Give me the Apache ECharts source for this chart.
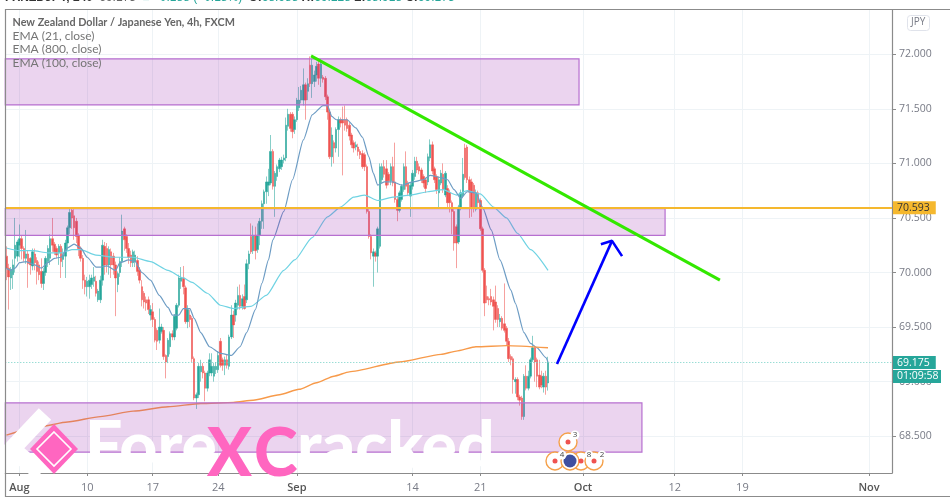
<!DOCTYPE html>
<html><head><meta charset="utf-8">
<style>html,body{margin:0;padding:0;background:#fff;overflow:hidden}#chart{width:950px;height:500px;filter:blur(0.35px)}</style>
<script src="https://cdn.jsdelivr.net/npm/echarts@6/dist/echarts.min.js"></script>
</head><body><div id="chart"></div>
<script>
const opens=[70.15,70.04,69.95,69.98,70.13,70.15,70.25,70.31,70.22,70.13,
70.17,70.13,70.06,70.17,70.11,70.07,70.01,69.90,70.00,70.10,
70.13,70.31,70.26,70.22,70.18,70.24,70.12,70.15,70.27,70.41,
70.57,70.52,70.47,70.34,70.22,70.13,69.93,69.87,69.87,69.89,
69.92,69.92,69.75,69.75,69.93,70.24,70.22,70.07,70.19,70.15,
70.07,69.89,70.00,70.10,70.40,70.33,70.22,70.16,70.09,70.10,
70.11,70.02,69.87,69.81,69.75,69.75,69.61,69.64,69.57,69.47,
69.38,69.46,69.47,69.24,69.23,69.32,69.44,69.41,69.49,69.70,
69.92,69.95,69.86,69.55,69.61,69.58,69.21,68.85,68.88,69.09,
69.14,69.08,68.94,69.08,69.08,69.05,69.11,69.11,69.37,69.20,
69.15,69.20,69.14,69.41,69.61,69.61,69.70,69.79,69.69,69.78,
69.75,70.08,70.33,70.20,70.34,70.21,70.34,70.47,70.63,70.74,
70.80,70.82,71.11,70.79,70.88,70.95,70.97,71.03,71.05,71.34,
71.45,71.45,71.31,71.40,71.51,71.58,71.58,71.72,71.66,71.90,
71.73,71.75,71.81,71.91,71.78,71.79,71.78,71.61,71.47,71.06,
71.19,71.14,71.31,71.40,71.40,71.40,71.40,71.35,71.26,71.19,
71.15,71.15,71.11,71.09,71.08,70.97,70.56,70.33,70.15,70.18,
70.15,70.24,70.85,70.97,70.95,70.90,70.84,70.97,70.83,70.67,
70.57,70.67,70.76,70.97,70.82,70.70,70.79,70.88,71.02,70.97,
70.94,70.88,70.85,70.83,71.05,71.17,70.95,70.88,70.73,70.82,
70.90,70.71,70.77,70.73,70.64,70.56,70.42,70.28,70.59,70.70,
71.14,71.15,70.85,70.83,70.80,70.58,70.73,70.66,70.40,70.02,
69.78,69.76,69.78,69.75,69.73,69.67,69.55,69.58,69.53,69.49,
69.37,69.23,69.21,69.00,69.02,68.86,68.85,68.68,69.05,68.94,
69.05,69.20,69.31,69.20,69.06,69.05,68.95,69.05,68.988];
const highs=[70.24,70.08,70.05,70.12,70.50,70.30,70.44,70.34,70.24,70.39,
70.20,70.14,70.22,70.22,70.14,70.10,70.13,70.04,70.15,70.25,
70.35,70.50,70.28,70.24,70.26,70.26,70.22,70.30,70.43,70.60,
70.60,70.58,70.50,70.36,70.24,70.16,69.98,69.96,69.98,69.98,
70.05,69.97,69.85,69.97,70.30,70.28,70.27,70.24,70.22,70.18,
70.10,70.01,70.14,70.53,70.42,70.35,70.27,70.20,70.21,70.20,
70.15,70.05,69.93,69.83,69.78,69.78,69.70,69.72,69.59,69.49,
69.67,69.53,69.50,69.25,69.40,69.46,69.47,69.62,69.72,69.98,
70.05,70.06,69.88,69.70,69.66,69.60,69.23,68.90,69.17,69.20,
69.17,69.10,69.10,69.26,69.26,69.17,69.18,69.28,69.40,69.22,
69.23,69.25,69.43,69.70,69.65,69.75,69.87,69.89,69.80,69.89,
70.12,70.20,70.45,70.43,70.42,70.45,70.50,70.66,70.76,70.88,
70.95,71.26,71.13,70.93,70.99,71.05,71.06,71.08,71.42,71.50,
71.47,71.47,71.43,71.60,71.70,71.71,71.87,71.74,71.78,71.98,
71.96,71.85,71.93,71.95,71.96,71.81,71.80,71.63,71.49,71.33,
71.21,71.33,71.43,71.42,71.52,71.53,71.42,71.38,71.28,71.21,
71.20,71.18,71.13,71.12,71.10,70.99,70.58,70.35,70.22,70.20,
70.42,71.00,71.00,71.03,71.03,70.92,71.00,71.06,71.19,70.70,
70.75,70.81,71.00,71.11,70.84,70.83,70.94,71.06,71.06,71.00,
70.96,70.90,70.87,71.09,71.22,71.20,70.97,70.90,70.88,70.94,
71.00,70.93,70.80,70.76,70.66,70.58,70.44,70.62,70.76,71.05,
71.18,71.17,70.88,70.86,70.82,70.76,70.75,70.68,70.42,70.04,
69.88,69.78,69.85,69.78,69.88,69.70,69.62,69.60,69.90,69.51,
69.40,69.25,69.23,69.04,69.04,68.88,68.87,69.07,69.15,69.10,
69.22,69.42,69.33,69.22,69.20,69.10,69.08,69.10,69.228];
const lows=[69.93,69.66,69.84,69.85,70.00,70.10,70.14,70.12,70.10,70.08,
69.86,69.98,70.02,70.02,69.89,69.93,69.86,69.84,69.97,70.05,
70.07,70.19,70.16,70.13,70.07,69.95,70.05,69.95,70.20,70.35,
70.40,70.30,70.27,70.15,70.10,69.85,69.80,69.78,69.76,69.85,
69.87,69.78,69.73,69.72,69.88,69.98,70.00,69.98,69.95,69.98,
69.60,69.82,69.96,70.05,70.20,70.18,70.08,70.05,70.05,70.05,
69.97,69.90,69.69,69.67,69.65,69.62,69.56,69.50,69.36,69.29,
69.35,69.44,69.20,69.03,69.17,69.25,69.38,69.38,69.47,69.68,
69.85,69.80,69.53,69.49,69.50,69.18,68.83,68.75,68.85,69.00,
69.03,68.82,68.91,69.05,69.05,69.00,69.07,69.08,69.13,69.10,
69.06,69.12,69.11,69.39,69.40,69.55,69.66,69.66,69.66,69.66,
69.72,70.03,70.17,70.17,70.12,70.18,70.25,70.40,70.40,70.63,
70.70,70.80,70.76,70.51,70.84,70.92,70.94,71.00,71.02,71.30,
71.29,71.23,71.27,71.38,71.48,71.55,71.53,71.40,71.58,71.70,
71.60,71.70,71.75,71.72,71.70,71.74,71.58,71.40,71.04,70.97,
71.00,71.10,71.06,71.33,70.89,71.30,71.29,71.21,71.14,71.10,
71.12,71.07,71.04,70.95,70.93,70.54,70.31,70.12,69.87,70.10,
70.00,70.22,70.82,70.87,70.77,70.80,70.80,70.79,70.64,70.47,
70.55,70.65,70.74,70.76,70.70,70.51,70.76,70.85,70.91,70.90,
70.82,70.78,70.73,70.80,71.02,70.90,70.82,70.72,70.59,70.80,
70.73,70.69,70.60,70.55,70.35,70.20,70.04,70.26,70.57,70.68,
70.85,70.82,70.50,70.51,70.55,70.56,70.60,70.38,70.00,69.60,
69.72,69.70,69.70,69.47,69.54,69.50,69.50,69.47,69.45,69.33,
69.18,69.15,68.89,68.89,68.83,68.78,68.65,68.65,68.92,68.92,
69.03,69.18,69.00,68.95,68.93,68.94,68.90,68.88,68.918];
const closes=[70.04,69.96,70.03,70.07,70.25,70.28,70.31,70.22,70.13,70.17,
70.08,70.07,70.19,70.09,70.01,69.98,69.90,70.01,70.13,70.22,
70.31,70.25,70.19,70.16,70.24,70.10,70.16,70.27,70.41,70.55,
70.50,70.41,70.33,70.22,70.13,69.93,69.87,69.92,69.93,69.95,
69.96,69.81,69.83,69.93,70.25,70.07,70.07,70.21,70.07,70.07,
69.95,69.99,70.10,70.38,70.30,70.22,70.14,70.09,70.19,70.16,
70.01,69.93,69.75,69.73,69.72,69.66,69.66,69.57,69.38,69.37,
69.50,69.50,69.23,69.18,69.38,69.44,69.41,69.60,69.70,69.95,
69.95,69.87,69.55,69.66,69.57,69.21,68.85,68.88,69.14,69.14,
69.08,68.94,69.08,69.20,69.14,69.14,69.14,69.24,69.15,69.15,
69.20,69.15,69.41,69.61,69.52,69.72,69.79,69.69,69.76,69.67,
70.08,70.17,70.19,70.34,70.20,70.34,70.47,70.63,70.74,70.83,
70.83,71.11,70.79,70.91,70.97,71.03,71.03,71.05,71.35,71.45,
71.32,71.29,71.40,71.58,71.58,71.67,71.72,71.58,71.73,71.73,
71.90,71.81,71.89,71.78,71.91,71.77,71.61,71.47,71.06,71.26,
71.14,71.31,71.40,71.37,71.37,71.35,71.32,71.25,71.17,71.14,
71.17,71.11,71.08,70.97,70.97,70.56,70.33,70.18,70.19,70.15,
70.40,70.97,70.97,70.90,70.80,70.84,70.97,70.82,70.67,70.57,
70.73,70.79,70.97,70.79,70.73,70.80,70.91,71.02,70.94,70.93,
70.85,70.82,70.77,71.06,71.17,70.93,70.85,70.76,70.85,70.91,
70.76,70.91,70.64,70.64,70.56,70.27,70.27,70.60,70.73,70.90,
70.87,70.85,70.74,70.59,70.59,70.73,70.64,70.40,70.02,69.72,
69.75,69.75,69.73,69.69,69.57,69.57,69.58,69.49,69.47,69.37,
69.21,69.20,69.02,69.02,68.86,68.83,68.68,69.05,68.94,69.05,
69.20,69.31,69.18,69.05,68.95,68.97,69.05,68.95,69.175];

const ema21=[[0,70.04],[2,70.02],[4,70.04],[6,70.09],[9,70.10],[13,70.07],[16,70.04],[19,70.09],[22,70.13],[25,70.14],[28,70.225],[31,70.26],[34,70.225],[37,70.14],[41,70.05],[43,70.05],[46,70.06],[50,70.02],[52,70.09],[56,70.115],[59,70.10],[62,70.00],[66,69.93],[70,69.79],[74,69.68],[76,69.61],[79,69.61],[81,69.67],[84,69.67],[86,69.58],[89,69.45],[93,69.32],[98,69.26],[103,69.24],[107,69.32],[110,69.45],[114,69.66],[117,69.90],[120,70.115],[122,70.30],[127,70.56],[131,70.85],[136,71.215],[140,71.445],[145,71.53],[147,71.53],[149,71.43],[151,71.40],[156,71.40],[160,71.325],[163,71.24],[166,71.06],[168,70.91],[170,70.80],[173,70.83],[177,70.83],[181,70.80],[186,70.83],[191,70.85],[194,70.89],[199,70.87],[202,70.85],[205,70.76],[208,70.68],[211,70.74],[215,70.73],[218,70.60],[222,70.39],[226,70.115],[231,69.84],[233,69.72],[237,69.45],[240,69.35],[243,69.31],[247,69.22],[248,69.18]];
const ema100=[[0,70.225],[6,70.20],[12,70.20],[19,70.18],[25,70.18],[30,70.21],[34,70.21],[41,70.16],[49,70.14],[58,70.14],[66,70.10],[74,70.02],[81,69.95],[85,69.91],[92,69.81],[98,69.70],[104,69.67],[112,69.69],[119,69.79],[127,70.02],[132,70.115],[140,70.32],[147,70.51],[153,70.60],[159,70.69],[164,70.71],[170,70.66],[177,70.69],[185,70.71],[193,70.74],[200,70.76],[206,70.71],[211,70.75],[217,70.72],[223,70.60],[229,70.50],[234,70.36],[240,70.21],[248,70.02]];
const ema800=[[0,68.51],[15,68.585],[28,68.63],[43,68.68],[58,68.73],[74,68.77],[89,68.80],[104,68.81],[113,68.83],[125,68.88],[134,68.93],[142,68.99],[150,69.05],[157,69.09],[180,69.18],[199,69.25],[206,69.28],[215,69.32],[229,69.33],[248,69.31]];

const zones=[[-0.5,71.958,262.2,71.536],[-0.5,70.585,301.6,70.34],[-0.5,68.805,291,68.355]];
const trendLine=[[139.5,71.985],[326.7,69.93]];
const arrowShaft=[[252.1,69.162],[277.3,70.29]];
const arrowHead=[[272.2,70.26],[277.3,70.29],[281.9,70.15]];
const resistance=70.593;
const lastPrice=69.175;
const yTicks=[68.5,69,69.5,70,70.5,71,71.5,72];
const xTicks=[6,37,67,97,133,186,217,264,306,337,395];
const xLabels=['Aug','10','17','24','Sep','14','21','Oct','12','19','Nov'];

const candles=opens.map((o,i)=>[i,o,closes[i],lows[i],highs[i]]);
const UP='#26a69a',DOWN='#ef5350';
const FONT='"Open Sans","DejaVu Sans",sans-serif';
const LEG='Lato,"Open Sans",sans-serif';
const WM='Lato,"Open Sans",sans-serif';

const badges=[[568,442,'3',575,435],[555,461,'4',562,455],[581,461,'8',589,455],[594,461,'2',602,455]];
const graphics=[
 {type:'rect',z:50,shape:{x:5.5,y:9.5,width:960,height:487},style:{fill:'none',stroke:'#8b8b8b',lineWidth:1.2}},
 {type:'text',z:50,left:5,top:-8,style:{font:'12px '+FONT,rich:{b:{fontWeight:'bold',fontSize:12,fill:'#333'},g:{fontSize:12,fill:'#666'},t:{fontSize:12,fill:'#26a69a'}},
   text:'{b|FXNZDJPY, 240}  {g|69.175}  {t|■ +0.188 (+0.18%)}  {b|O:}{t|68.988} {b|H:}{t|69.228} {b|L:}{t|68.918} {b|C:}{t|69.175}'}},
 {type:'text',z:50,left:12.5,top:17,style:{text:'New Zealand Dollar / Japanese Yen, 4h, FXCM',font:'bold 10.8px '+LEG,fill:'#666'}},
 {type:'text',z:50,left:12.5,top:30,style:{text:'EMA (21, close)',font:'12px '+LEG,fill:'#757575'}},
 {type:'text',z:50,left:12.5,top:43.5,style:{text:'EMA (800, close)',font:'12px '+LEG,fill:'#757575'}},
 {type:'text',z:50,left:12.5,top:57,style:{text:'EMA (100, close)',font:'12px '+LEG,fill:'#757575'}},
 {type:'rect',z:50,shape:{x:907.5,y:15.5,width:22,height:15,r:3},style:{fill:'#fff',stroke:'#e0e3eb',lineWidth:1}},
 {type:'text',z:51,left:911,top:17.5,style:{text:'JPY',font:'10px '+FONT,fill:'#787b86'}},
 {type:'rect',z:60,shape:{x:893,y:370,width:48,height:13},style:{fill:UP}},
 {type:'text',z:61,left:897,top:370.5,style:{text:'01:09:58',font:'10.5px '+FONT,fill:'#fff'}},
 {type:'polyline',z:40,shape:{points:[[45,414],[12,449],[41,473]]},style:{stroke:'#fff',fill:'none',lineWidth:17}},
 {type:'polygon',z:41,shape:{points:[[54,424],[78,449],[54,474],[30,449]]},style:{fill:'#ff66c0'}},
 {type:'polygon',z:42,shape:{points:[[54,432],[71,449],[54,466],[37,449]]},style:{fill:'#ff66c0',stroke:'#fff',lineWidth:1.6}},
 {type:'text',z:41,left:85,top:415,style:{text:'Fore',font:'900 66px '+WM,fill:'#fff'}},
 {type:'text',z:42,left:207,top:422,style:{text:'X',font:'900 66px '+WM,fill:'#ff66c0'}},
 {type:'text',z:42,left:254,top:422,style:{text:'C',font:'900 66px '+WM,fill:'#ff66c0'}},
 {type:'text',z:41,left:297,top:415,style:{text:'racked',font:'900 66px '+WM,fill:'#fff'}},
 {type:'circle',z:44,shape:{cx:570,cy:461,r:9},style:{fill:'#fff',stroke:'#f5a14a',lineWidth:1.4}},
 {type:'circle',z:45,shape:{cx:570,cy:461,r:6.5},style:{fill:'#3f4fa0'}},
];
badges.forEach(([cx,cy,n,bx,by])=>{
 graphics.push({type:'circle',z:43,shape:{cx,cy,r:9},style:{fill:'#fff',stroke:'#f5a14a',lineWidth:1.4}});
 graphics.push({type:'circle',z:46,shape:{cx,cy,r:2.5},style:{fill:'#ef5350'}});
 graphics.push({type:'circle',z:46,shape:{cx:bx,cy:by,r:4.5},style:{fill:'#fff'}});
 graphics.push({type:'text',z:47,x:bx,y:by,style:{text:n,font:'8px '+FONT,fill:'#444',align:'center',verticalAlign:'middle'}});
});

const chart=echarts.init(document.getElementById('chart'));
chart.setOption({
 animation:false,
 grid:{left:5.3,top:9.5,width:886.7,height:463.5,containLabel:false},
 xAxis:{type:'value',min:-0.5,max:405.5,
  axisLine:{onZero:false,lineStyle:{color:'#8b8b8b',width:1.2}},
  axisTick:{customValues:xTicks,length:3,lineStyle:{color:'#8b8b8b'}},
  axisLabel:{customValues:xTicks,margin:9,fontFamily:FONT,fontSize:11,color:'#787b86',
   formatter:v=>{const s=xLabels[xTicks.indexOf(v)]||'';return /\d/.test(s)?s:'{m|'+s+'}';},
   rich:{m:{fontWeight:600,fontSize:11,color:'#555',fontFamily:FONT}}},
  splitLine:{show:true,lineStyle:{color:'#eef3f6',width:1}}},
 yAxis:{type:'value',position:'right',min:68.163,max:72.41,
  axisLine:{show:true,onZero:false,lineStyle:{color:'#8b8b8b',width:1.2}},
  axisTick:{show:true,customValues:yTicks,length:4,lineStyle:{color:'#8b8b8b'}},
  axisLabel:{customValues:yTicks,margin:7,fontFamily:FONT,fontSize:10.5,color:'#787b86',formatter:v=>v.toFixed(3)},
  splitLine:{show:true,lineStyle:{color:'#eef3f6',width:1}}},
 graphic:graphics,
 series:[
  {type:'candlestick',name:'NZDJPY',data:candles,barWidth:2,z:2,silent:true,
   itemStyle:{color:UP,color0:DOWN,borderColor:'rgba(38,166,154,0.55)',borderColor0:'rgba(239,83,80,0.55)',borderWidth:1}},
  {type:'line',name:'EMA 100',data:ema100,showSymbol:false,smooth:0.2,smoothMonotone:'x',z:3,silent:true,lineStyle:{color:'#6fd3e3',width:1.2}},
  {type:'line',name:'EMA 21',data:ema21,showSymbol:false,smooth:0.2,smoothMonotone:'x',z:3,silent:true,lineStyle:{color:'#6d9cc4',width:1.2}},
  {type:'line',name:'EMA 800',data:ema800,showSymbol:false,smooth:0.2,smoothMonotone:'x',z:3,silent:true,lineStyle:{color:'#f79a4a',width:1.4}},
  {type:'line',name:'Zones',data:[],z:4,silent:true,
   markArea:{silent:true,z:4,itemStyle:{color:'rgba(156,39,176,0.2)',borderColor:'#b76fd0',borderWidth:1.2},
    data:zones.map(z=>[{coord:[z[0],z[1]]},{coord:[z[2],z[3]]}])}},
  {type:'line',name:'Levels',data:[],z:5,silent:true,
   markLine:{silent:true,z:5,symbol:'none',precision:3,
    data:[
     {yAxis:resistance,lineStyle:{color:'#f5b82e',width:2,type:'solid'},
      label:{position:'end',distance:1,formatter:resistance.toFixed(3),backgroundColor:'#f5b82e',color:'#333',fontFamily:FONT,fontSize:10.5,padding:[1,6,1,4]}},
     {yAxis:lastPrice,lineStyle:{color:'#6fcfc4',width:1,type:[1,2]},
      label:{position:'end',distance:1,formatter:lastPrice.toFixed(3),backgroundColor:UP,color:'#fff',fontFamily:FONT,fontSize:10.5,padding:[1,6,1,4]}}
    ]}},
  {type:'line',name:'Trend',data:trendLine,showSymbol:false,z:6,silent:true,lineStyle:{color:'#33e800',width:3}},
  {type:'line',name:'Arrow',data:arrowShaft,showSymbol:false,z:6,silent:true,lineStyle:{color:'#0000ff',width:2.6}},
  {type:'line',name:'ArrowHead',data:arrowHead,showSymbol:false,z:6,silent:true,lineStyle:{color:'#0000ff',width:2.6}}
 ]
});
</script></body></html>
